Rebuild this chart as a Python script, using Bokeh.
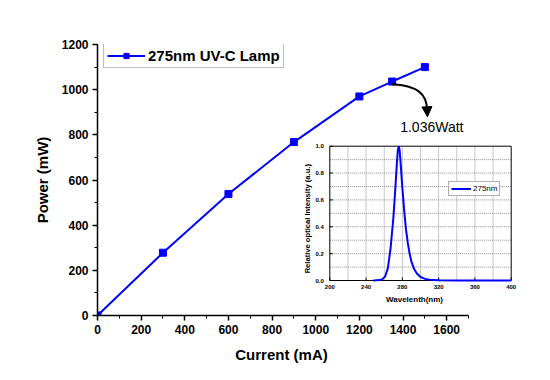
import math
from bokeh.plotting import figure
from bokeh.models import (Range1d, SingleIntervalTicker, Legend, LegendItem, Label,
                          Arrow, NormalHead)
from bokeh.core.properties import value
from bokeh.embed import file_html
from bokeh.resources import INLINE

# ---- data ----
current_mA = [0, 300, 600, 900, 1200, 1350, 1500]
power_mW = [0, 278, 538, 768, 970, 1036, 1100]
series_label = "275nm UV-C Lamp"

wavelength_nm = [248, 255, 258, 261, 264, 267, 270, 272, 274, 275, 276, 277, 278, 280,
                 282, 284, 286, 288, 290, 293, 296, 300, 305, 310, 320, 340, 400]
intensity = [0.0, 0.003, 0.01, 0.03, 0.09, 0.24, 0.46, 0.66, 0.88, 0.97, 1.0, 0.97, 0.88,
             0.69, 0.52, 0.38, 0.28, 0.2, 0.14, 0.085, 0.052, 0.026, 0.012, 0.006, 0.002, 0.0, 0.0]
spectrum_label = "275nm"
annotation_text = "1.036Watt"

inset_x_ticks = [200, 240, 280, 320, 360, 400]
inset_x_ticklabels = ["200", "240", "280", "320", "360", "400"]
inset_y_ticks = [0.0, 0.2, 0.4, 0.6, 0.8, 1.0]
inset_y_ticklabels = ["0.0", "0.2", "0.4", "0.6", "0.8", "1.0"]
inset_x_grid = [220, 240, 260, 280, 300, 320, 340, 360, 380]
inset_y_grid = [0.1, 0.2, 0.3, 0.4, 0.5, 0.6, 0.7, 0.8, 0.9]

FONT = "Liberation Sans"
BLUE = "#0000FF"

# ---- layout constants (pixels) ----
W, H = 542, 372
BL, BT, BB = 97, 44, 57
FW = 428                      # frame extends right so the inset fits
FH = H - BT - BB              # 271
AXIS_PX = 371                 # pixel length of the 0..1700 main x axis
X_MAX = 1700
# inset frame, relative to main frame (left / bottom origin)
IN_L, IN_R = 232.3, 413.7
IN_B, IN_T = 35.0, 169.3

p = figure(width=W, height=H, output_backend="svg", toolbar_location=None,
           x_range=Range1d(0, X_MAX * FW / AXIS_PX), y_range=Range1d(0, 1200),
           min_border_left=BL, min_border_right=W - BL - FW,
           min_border_top=BT, min_border_bottom=BB)
p.outline_line_color = None
p.background_fill_color = "white"
p.border_fill_color = "white"
p.xgrid.visible = False
p.ygrid.visible = False

# inset coordinate system via extra ranges
ux = (400 - 200) / (IN_R - IN_L)
uy = (1.0 - 0.0) / (IN_T - IN_B)
x0 = 200 - IN_L * ux
y0 = 0.0 - IN_B * uy
p.extra_x_ranges = {"wl": Range1d(x0, x0 + FW * ux)}
p.extra_y_ranges = {"ri": Range1d(y0, y0 + FH * uy)}

p.xaxis.ticker = SingleIntervalTicker(interval=200, num_minor_ticks=2)
p.yaxis.ticker = SingleIntervalTicker(interval=200, num_minor_ticks=2)
p.xaxis.bounds = (0, X_MAX)
for ax in (p.xaxis[0], p.yaxis[0]):
    ax.axis_line_color = "black"
    ax.axis_line_width = 1.5
    ax.major_tick_line_color = "black"
    ax.minor_tick_line_color = "black"
    ax.major_tick_line_width = 1.5
    ax.minor_tick_line_width = 1
    ax.major_tick_out = 5
    ax.major_tick_in = 0
    ax.minor_tick_out = 3
    ax.minor_tick_in = 0
    ax.major_label_text_font = FONT
    ax.major_label_text_font_style = "bold"
    ax.major_label_text_font_size = "12px"
    ax.major_label_text_color = "black"
    ax.axis_label_text_font = FONT
    ax.axis_label_text_font_style = "bold"
    ax.axis_label_text_font_size = "15px"
    ax.axis_label_text_color = "black"
# trailing em spaces shift the centred title under the 0..1700 part of the axis
p.xaxis.axis_label = "Current (mA)" + "\u2003" * 4
p.yaxis.axis_label = "Power (mW)"
p.xaxis.major_label_standoff = 4
p.xaxis.axis_label_standoff = 9
p.yaxis.major_label_standoff = 4
p.yaxis.axis_label_standoff = 8

ln = p.line(current_mA, power_mW, line_color=BLUE, line_width=2)
sc = p.scatter(current_mA, power_mW, marker="square", size=7, fill_color=BLUE, line_color=BLUE)

leg = Legend(items=[LegendItem(label=series_label, renderers=[ln, sc])],
             location=(6, 247), orientation="vertical")
leg.border_line_color = "#808080"
leg.border_line_width = 1
leg.background_fill_alpha = 1
leg.label_text_font = FONT
leg.label_text_font_style = "bold"
leg.label_text_font_size = "15px"
leg.label_text_color = "black"
leg.glyph_width = 38
leg.glyph_height = 13
leg.label_height = 13
leg.label_standoff = 3
leg.padding = 3
leg.margin = 0
leg.spacing = 0
p.add_layout(leg)

# curved arrow annotation from the 1350 mA point
i_mark = 5
p.bezier(x0=[current_mA[i_mark]], y0=[power_mW[i_mark] - 12],
         x1=[1510], y1=[905],
         cx0=[1460], cy0=[1018], cx1=[1512], cy1=[985],
         line_color="black", line_width=2)
p.add_layout(Arrow(end=NormalHead(size=10, fill_color="black", line_color="black"),
                   line_color="black", line_width=2,
                   x_start=1510, y_start=915, x_end=1512, y_end=880))
p.add_layout(Label(x=1387, y=800, text=annotation_text, text_font=FONT,
                   text_font_size="14px", text_color="black"))

# ---- inset ----
R = dict(x_range_name="wl", y_range_name="ri")
p.quad(left=[200], right=[400], bottom=[0], top=[1.0], fill_color="white",
       line_color=None, **R)
p.segment(x0=inset_x_grid, y0=[0] * len(inset_x_grid), x1=inset_x_grid,
          y1=[1.0] * len(inset_x_grid), line_color="#909090", line_dash="1 1", line_width=1, **R)
p.segment(x0=[200] * len(inset_y_grid), y0=inset_y_grid, x1=[400] * len(inset_y_grid),
          y1=inset_y_grid, line_color="#909090", line_dash="1 1", line_width=1, **R)
# inward tick marks
tx = 3 * ux
ty = 3 * uy
p.segment(x0=inset_x_ticks, y0=[0] * 6, x1=inset_x_ticks, y1=[ty] * 6,
          line_color="black", line_width=1, **R)
p.segment(x0=[200] * 6, y0=inset_y_ticks, x1=[200 + tx] * 6, y1=inset_y_ticks,
          line_color="black", line_width=1, **R)
p.quad(left=[200], right=[400], bottom=[0], top=[1.0], fill_color=None,
       line_color="black", line_width=1, **R)

sl = p.line(wavelength_nm, intensity, line_color=BLUE, line_width=2, **R)

p.text(x=inset_x_ticks, y=[0] * 6, text=inset_x_ticklabels, y_offset=4,
       text_align="center", text_baseline="top", text_font=value(FONT),
       text_font_style="bold", text_font_size="6px", text_color="black", **R)
p.text(x=[200] * 6, y=inset_y_ticks, text=inset_y_ticklabels, x_offset=-6,
       text_align="right", text_baseline="middle", text_font=value(FONT),
       text_font_style="bold", text_font_size="6px", text_color="black", **R)
p.text(x=[300], y=[0], text=["Wavelenth(nm)"], x_offset=-6, y_offset=14,
       text_align="center", text_baseline="top", text_font=value(FONT),
       text_font_style="bold", text_font_size="8px", text_color="black", **R)
p.text(x=[200], y=[0.46], text=["Relative optical Intensity (a.u.)"], x_offset=-22,
       angle=math.pi / 2, text_align="center", text_baseline="middle",
       text_font=value(FONT), text_font_style="bold", text_font_size="7.6px",
       text_color="black", **R)

leg2 = Legend(items=[LegendItem(label=spectrum_label, renderers=[sl])],
              location=(351, 119))
leg2.border_line_color = "#606060"
leg2.label_text_font = FONT
leg2.label_text_font_size = "8px"
leg2.label_text_color = "black"
leg2.glyph_width = 20
leg2.glyph_height = 9
leg2.label_height = 9
leg2.label_standoff = 2
leg2.padding = 2
leg2.margin = 0
p.add_layout(leg2)

open("out.html", "w").write(file_html(p, INLINE))
